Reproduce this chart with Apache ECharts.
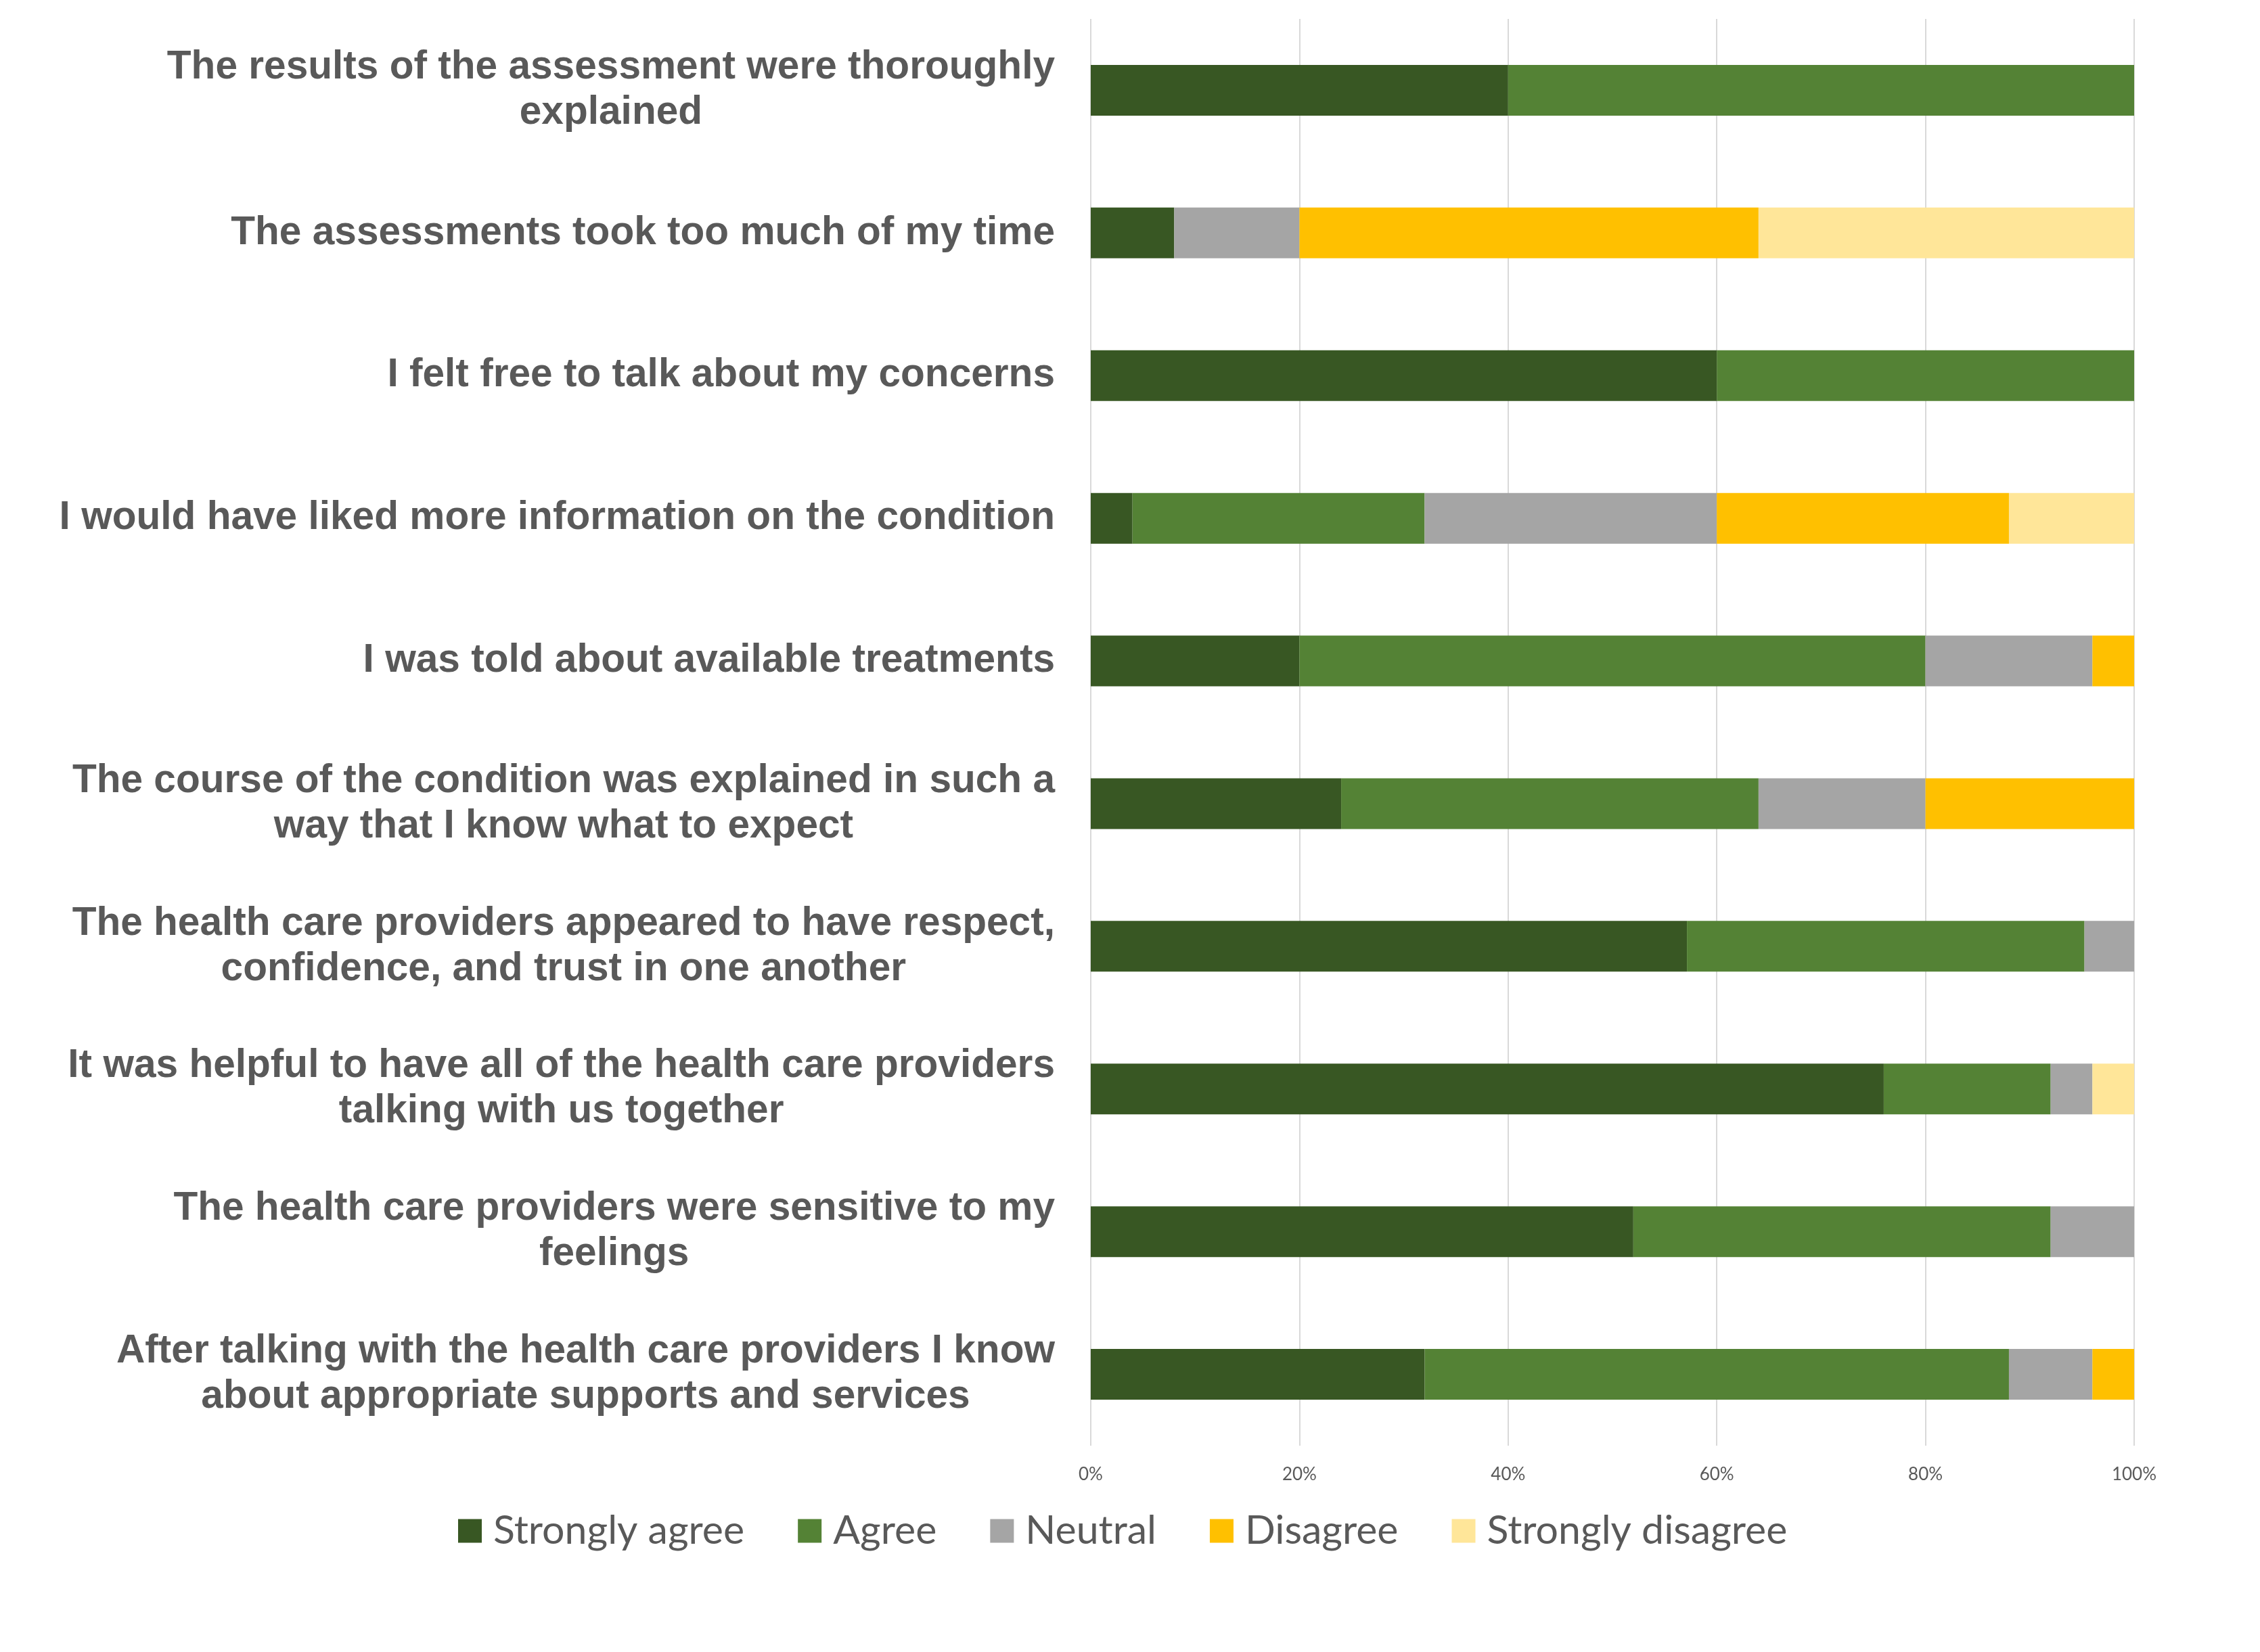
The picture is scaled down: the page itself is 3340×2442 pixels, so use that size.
<!DOCTYPE html>
<html>
<head>
<meta charset="utf-8">
<script src="https://cdn.jsdelivr.net/npm/echarts@6/dist/echarts.min.js"></script>
<style>
html,body{margin:0;padding:0;background:#fff;}
#chart{width:3340px;height:2442px;}
</style>
</head>
<body>
<div id="chart"></div>
<script>
const categories = [
  "The results of the assessment were thoroughly\nexplained",
  "The assessments took too much of my time",
  "I felt free to talk about my concerns",
  "I would have liked more information on the condition",
  "I was told about available treatments",
  "The course of the condition was explained in such a\nway that I know what to expect",
  "The health care providers appeared to have respect,\nconfidence, and trust in one another",
  "It was helpful to have all of the health care providers\ntalking with us together",
  "The health care providers were sensitive to my\nfeelings",
  "After talking with the health care providers I know\nabout appropriate supports and services"
];
const seriesNames = ["Strongly agree", "Agree", "Neutral", "Disagree", "Strongly disagree"];
const stronglyAgree    = [40, 8, 60, 4, 20, 24, 57.14, 76, 52, 32];
const agree            = [60, 0, 40, 28, 60, 40, 38.10, 16, 40, 56];
const neutral          = [0, 12, 0, 28, 16, 16, 4.76, 4, 8, 8];
const disagree         = [0, 44, 0, 28, 4, 20, 0, 0, 0, 4];
const stronglyDisagree = [0, 36, 0, 12, 0, 0, 0, 4, 0, 0];
const xTicks = [0, 20, 40, 60, 80, 100];
const colors = ["#385723", "#548235", "#A5A5A5", "#FFC000", "#FFE699"];

const values = [stronglyAgree, agree, neutral, disagree, stronglyDisagree];

const chart = echarts.init(document.getElementById('chart'), null, {renderer: 'canvas'});
chart.setOption({
  backgroundColor: '#ffffff',
  animation: false,
  grid: {left: 1612, right: 186, top: 28, bottom: 305, containLabel: false},
  legend: {
    data: seriesNames,
    left: 672,
    top: 2228,
    icon: 'rect',
    itemWidth: 35,
    itemHeight: 35,
    itemGap: 79,
    textStyle: {fontFamily: 'Lato', fontSize: 59, color: '#595959', lineHeight: 60, padding: [0, 0, 0, 12]}
  },
  xAxis: {
    type: 'value',
    min: xTicks[0],
    max: xTicks[xTicks.length - 1],
    interval: 20,
    axisLine: {show: false},
    axisTick: {show: false},
    splitLine: {show: true, lineStyle: {color: '#D9D9D9', width: 2}},
    axisLabel: {
      formatter: '{value}%',
      fontFamily: 'Lato',
      fontSize: 26,
      color: '#595959',
      margin: 30
    }
  },
  yAxis: {
    type: 'category',
    data: categories,
    inverse: true,
    axisLine: {show: false},
    axisTick: {show: false},
    splitLine: {show: false},
    axisLabel: {
      margin: 53,
      align: 'right',
      formatter: function (v) {
        return v.split('\n').map(function (l) { return '{c|' + l + '}'; }).join('\n');
      },
      rich: {
        c: {
          align: 'center',
          fontFamily: 'Liberation Sans',
          fontWeight: 'bold',
          fontSize: 58.6,
          lineHeight: 67,
          color: '#595959'
        }
      },
      fontFamily: 'Liberation Sans',
      fontWeight: 'bold',
      fontSize: 58.6,
      lineHeight: 67,
      color: '#595959'
    }
  },
  series: seriesNames.map(function (name, i) {
    return {
      name: name,
      type: 'bar',
      stack: 'total',
      barWidth: 75,
      itemStyle: {color: colors[i]},
      data: values[i]
    };
  })
});
</script>
</body>
</html>
